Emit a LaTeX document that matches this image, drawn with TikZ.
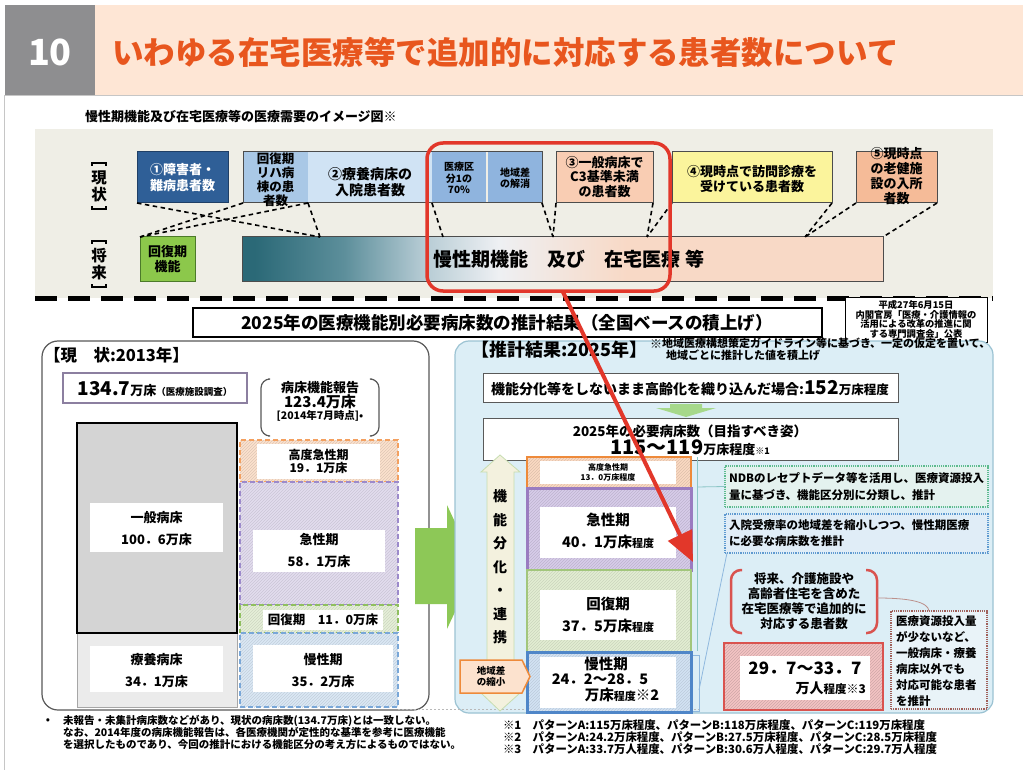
\documentclass[tikz,border=0pt]{standalone}
\usepackage{fontspec}
\setmainfont{Noto Sans CJK JP}
\usetikzlibrary{arrows.meta,patterns}
\newcommand\fsz[2]{\fontsize{#1}{#2}\selectfont\bfseries}
\newcommand\R[6]{\node[rectangle, inner sep=0pt, outer sep=0pt, minimum width={#4-#2}, minimum height={#5-#3}, #6] (#1) at ({(#2+#4)/2},{(#3+#5)/2}) {};}
\definecolor{hdgray}{HTML}{8E8E90}
\definecolor{hdpeach}{HTML}{FEE6D5}
\definecolor{hdorange}{HTML}{E8561E}
\definecolor{beige}{HTML}{EFEEE6}
\definecolor{blue1}{HTML}{2F5F97}
\definecolor{blue1d}{HTML}{1F3F66}
\definecolor{lb1}{HTML}{A9C8E6}
\definecolor{lb2}{HTML}{D0E3F4}
\definecolor{lb3}{HTML}{8FB4DE}
\definecolor{pch}{HTML}{F9CDB3}
\definecolor{yel}{HTML}{FBF49C}
\definecolor{sal}{HTML}{F5BB98}
\definecolor{green1}{HTML}{8CC84B}
\definecolor{green1d}{HTML}{4C7A2A}
\definecolor{red1}{HTML}{E2372A}
\definecolor{purp1}{HTML}{8C7FA0}
\definecolor{gray1}{HTML}{D4D4D4}
\definecolor{gray2}{HTML}{EBEBEB}
\definecolor{ha1}{HTML}{FCE2CE}
\definecolor{orng}{HTML}{F3A060}
\definecolor{ac1}{HTML}{E2DCEE}
\definecolor{purp2}{HTML}{9C8ACB}
\definecolor{rc1}{HTML}{E5EFD8}
\definecolor{grn2}{HTML}{8FBF5F}
\definecolor{ch1}{HTML}{DAE7F4}
\definecolor{blu2}{HTML}{79A7D8}
\definecolor{garrow}{HTML}{8DC857}
\definecolor{garrow2}{HTML}{A6D88A}
\definecolor{rpbg}{HTML}{DCEEF6}
\definecolor{rpbd}{HTML}{9CC3D3}
\definecolor{rha}{HTML}{FBDAC2}
\definecolor{orng2}{HTML}{EE8A3A}
\definecolor{rac}{HTML}{D8CCEA}
\definecolor{purp3}{HTML}{9A7CC0}
\definecolor{rrc}{HTML}{E2EDD2}
\definecolor{grn3}{HTML}{A2C67C}
\definecolor{rch}{HTML}{D2E2F3}
\definecolor{blu3}{HTML}{4F86C8}
\definecolor{ndbbg}{HTML}{E4F2EF}
\definecolor{ndbbd}{HTML}{5DBB8E}
\definecolor{blbg}{HTML}{E0EDF7}
\definecolor{blbd}{HTML}{5F9AD0}
\definecolor{red2}{HTML}{D9534F}
\definecolor{pink}{HTML}{F4C4C4}
\definecolor{dotbg}{HTML}{E9F3F8}
\definecolor{dotbd}{HTML}{A0605A}
\definecolor{arrcream}{HTML}{F3F1DE}
\definecolor{bt1}{HTML}{2B6977}
\definecolor{bt2}{HTML}{5D8F9B}
\definecolor{bt3}{HTML}{B4CAD3}
\definecolor{bt4}{HTML}{EEF0F3}
\definecolor{bt5}{HTML}{F8D9C6}
\pgfdeclarehorizontalshading{barsh}{100bp}{color(0bp)=(bt1); color(26bp)=(bt1); color(33bp)=(bt2); color(39bp)=(bt3); color(45bp)=(bt4); color(55bp)=(bt5); color(100bp)=(bt5)}
\begin{document}
\begin{tikzpicture}[x=1pt,y=-1pt,
  tx/.style={inner sep=0pt, outer sep=0pt, align=center},
  dsh/.style={draw=black, line width=1.6pt, dash pattern=on 4.5pt off 3.5pt},
  hatch/.style 2 args={preaction={fill=#1}, pattern=north east lines, pattern color=#2},
  ldash/.style={line width=1.5pt, dash pattern=on 5pt off 3pt},
  thinln/.style={line width=0.8pt},
  vbrk/.style={line width=2.2pt, line cap=butt}]
\useasboundingbox (0,0) rectangle (1023,770);
\fill[white] (0,0) rectangle (1023,770);
% header
\R{hg}{5}{5}{95}{95}{fill=hdgray}
\R{hp}{95}{5}{1023}{95}{fill=hdpeach}
\draw[gray!45, line width=1pt] (4,96) -- (1023,96);
\draw[gray!45, line width=1pt] (4,96) -- (4,770);
\node[tx, text=white, font=\fsz{36}{36}] (hnum) at (50,52) {10};
\node[tx, anchor=west, text=hdorange, font=\fsz{31.5}{32}] (htitle) at (112,52) {いわゆる在宅医療等で追加的に対応する患者数について};
% top section
\node[tx, anchor=west, font=\fsz{13}{13}] (cap) at (85,117) {慢性期機能及び在宅医療等の医療需要のイメージ図※};
\R{beige}{35}{129}{993}{298}{fill=beige}
\node[tx, font=\fsz{15.5}{17}] (lgen) at (99,186) {現\\状};
\node[tx, font=\fsz{15.5}{17}] (lsho) at (99,264) {将\\来};
\draw[vbrk] (92,166) -- (92,163) -- (106,163) -- (106,166);
\draw[vbrk] (92,206) -- (92,209) -- (106,209) -- (106,206);
\draw[vbrk] (92,244) -- (92,241) -- (106,241) -- (106,244);
\draw[vbrk] (92,284) -- (92,287) -- (106,287) -- (106,284);
\R{b1}{137}{152}{228}{203}{fill=blue1, draw=blue1d, line width=1pt}
\node[tx, text=white, font=\fsz{13}{16}] (b1t) at (182.5,177.5) {①障害者・\\難病患者数};
\R{s1}{243}{152}{308}{203}{fill=lb1}
\R{s2}{308}{152}{432}{203}{fill=lb2}
\R{s3}{432}{152}{486}{203}{fill=lb3}
\R{s4}{488}{152}{542}{203}{fill=lb3}
\draw[gray!60!black, line width=1pt] (s1.north west) rectangle (s4.south east);
\node[tx, font=\fsz{12.5}{14}] (s1t) at (275.5,180) {回復期\\リハ病\\棟の患\\者数};
\node[tx, font=\fsz{14}{16}] (s2t) at (370,182) {②療養病床の\\入院患者数};
\node[tx, font=\fsz{10}{11.5}] (s3t) at (459,178) {医療区\\分1の\\70\%};
\node[tx, font=\fsz{10}{11.5}] (s4t) at (515,178) {地域差\\の解消};
\R{b3}{556}{152}{653}{203}{fill=pch, draw=gray!60!black, line width=1pt}
\node[tx, font=\fsz{13}{14.5}] (b3t) at (604.5,177) {③一般病床で\\C3基準未満\\の患者数};
\R{b4}{672}{152}{832}{203}{fill=yel, draw=gray!60!black, line width=1pt}
\node[tx, font=\fsz{13}{15.5}] (b4t) at (752,179) {④現時点で訪問診療を\\受けている患者数};
\R{b5}{856}{152}{937}{203}{fill=sal, draw=gray!60!black, line width=1pt}
\node[tx, font=\fsz{13}{15}] (b5t) at (896.5,176) {⑤現時点\\の老健施\\設の入所\\者数};
\R{g1}{140}{237}{195}{281}{fill=green1, draw=green1d, line width=1pt}
\node[tx, font=\fsz{13}{15}] (g1t) at (167.5,259) {回復期\\機能};
\R{bar}{242}{237}{883}{281}{shade, shading=barsh, draw=gray!60!black, line width=1pt}
\node[tx, anchor=west, font=\fsz{19}{19}] (bart) at (433,259) {慢性期機能　及び　在宅医療\hspace{5pt}等};
\coordinate (q1) at (320,237);
\coordinate (q2) at (443,237);
\coordinate (q3) at (553,237);
\coordinate (q4) at (647,237);
\coordinate (q5) at (805,237);
\draw[dsh] (b1.south west) -- (q1);
\draw[dsh] (s1.south east) -- (q1);
\draw[dsh] (s1.south west) -- (g1.north west);
\draw[dsh] (s1.south east) -- (g1.north west);
\draw[dsh] (s3.south west) -- (q2);
\draw[dsh] (s4.south east) -- (q3);
\draw[dsh] (b3.south west) -- (q3);
\draw[dsh] (b3.south east) -- (q4);
\draw[dsh] (b4.south west) -- (q4);
\draw[dsh] (b4.south east) -- (q5);
\draw[dsh] (b5.south west) -- (q5);
\draw[dsh] (b5.south east) -- (bar.north east);
\R{redbox}{427}{143}{670}{291}{draw=red1, line width=3.5pt, rounded corners=16pt}
\draw[line width=5pt, dash pattern=on 22pt off 11pt] (35,298) -- (993,298);
% middle title
\R{mt}{193}{308}{822}{337}{fill=white, draw=black, line width=1.2pt}
\node[tx, font=\fsz{17.5}{18}] (mtt) at (507,322.5) {2025年の医療機能別必要病床数の推計結果（全国ベースの積上げ）};
\R{nb}{845}{297}{987}{342}{fill=white, draw=black, line width=1pt}
\node[tx, font=\fsz{9.3}{9.6}] (nbt) at (916,319.5) {平成27年6月15日\\内閣官房「医療・介護情報の\\活用による改革の推進に関\\する専門調査会」公表};
% left panel
\R{lp}{42}{341}{429}{710}{fill=white, draw=gray!70!black, line width=1.2pt, rounded corners=16pt}
\node[tx, anchor=west, font=\fsz{16.5}{17}] (lpt) at (44,355) {【現　状:2013年】};
\R{b134}{63}{373}{247}{403}{fill=white, draw=purp1, line width=1.2pt}
\node[tx] (b134t) at (155,389) {{\fsz{19}{19}134.7}{\fsz{13}{13}万床}{\fsz{9.5}{10}（医療施設調査）}};
\node[tx] (rep) at (320,401) {{\fsz{13}{15}病床機能報告}\\{\fsz{15}{15}123.4万床}\\{\fsz{10.5}{13}[2014年7月時点]•}};
\draw[gray!70!black, line width=1.2pt, rounded corners=9pt] (268,379) -| (261,436) -- (268,436);
\draw[gray!70!black, line width=1.2pt, rounded corners=9pt] (372,379) -| (379,436) -- (372,436);
\R{ryo}{77}{633}{237}{707}{fill=gray2, draw=gray!70, line width=1pt}
\R{gen}{77}{423}{237}{633}{fill=gray1, draw=black, line width=2.5pt}
\R{genw}{90}{503}{223}{552}{fill=white}
\node[tx, font=\fsz{13}{22}] (gent) at (156.5,529) {一般病床\\100．6万床};
\R{ryow}{90}{646}{223}{692}{fill=white}
\node[tx, font=\fsz{13}{22}] (ryot) at (156.5,671) {療養病床\\34．1万床};
\R{lha}{240}{440}{398}{482}{hatch={ha1}{ha1!88!black}, draw=orng, ldash}
\R{lhaw}{257}{444}{380}{479}{fill=white}
\node[tx, font=\fsz{12}{13}] (lhat) at (318.5,461.5) {高度急性期\\19．1万床};
\R{lac}{240}{482}{398}{605}{hatch={ac1}{ac1!90!black}, draw=purp2, ldash}
\R{lacw}{253}{530}{385}{572}{fill=white}
\node[tx, font=\fsz{13}{22}] (lact) at (319,551) {急性期\\58．1万床};
\R{lrc}{240}{605}{398}{633}{hatch={rc1}{rc1!90!black}, draw=grn2, ldash}
\R{lrcw}{263}{610}{383}{630}{fill=white}
\node[tx, font=\fsz{12.5}{13}] (lrct) at (323,620) {回復期　11．0万床};
\R{lch}{240}{633}{398}{707}{hatch={ch1}{ch1!90!black}, draw=blu2, ldash}
\R{lchw}{253}{645}{393}{692}{fill=white}
\node[tx, font=\fsz{13}{22}] (lcht) at (323,671) {慢性期\\35．2万床};
\fill[garrow] (415,528) -- (447,528) -- (447,505) -- (476,567) -- (447,629) -- (447,604) -- (415,604) -- cycle;
% right panel
\R{rp}{455}{341}{993}{713}{fill=rpbg, draw=rpbd, line width=1.2pt, rounded corners=14pt}
\draw[gray!55, line width=1pt, dash pattern=on 2pt off 2pt] (398,709) -- (700,709);
\node[tx, anchor=west, font=\fsz{18}{18}] (rpt) at (471,350) {【推計結果:2025年】};
\node[tx, anchor=west, font=\fsz{12}{12}] (rps) at (650,344) {※};
\node[tx, anchor=north west, align=left, font=\fsz{11}{12}] (rpn) at (662,338) {地域医療構想策定ガイドライン等に基づき、一定の仮定を置いて、\\\hspace{4pt}地域ごとに推計した値を積上げ};
\R{ba}{483}{373}{898}{402}{fill=white, draw=gray!70!black, line width=1pt}
\node[tx] (bat) at (690,388) {{\fsz{14}{14}機能分化等をしないまま高齢化を織り込んだ場合:}{\fsz{19}{19}152}{\fsz{12.5}{12.5}万床程度}};
\fill[garrow2] (670,404) -- (702,404) -- (702,408) -- (716,408) -- (686,417) -- (656,408) -- (670,408) -- cycle;
\R{bb}{483}{418}{898}{460}{fill=white, draw=gray!70!black, line width=1pt}
\node[tx, font=\fsz{13.5}{14}] (bbt1) at (690,431) {2025年の必要病床数（目指すべき姿）};
\node[tx] (bbt2) at (690,448) {{\fsz{20}{20}115～119}{\fsz{13}{13}万床程度}{\fsz{9}{9}※1}};
\filldraw[fill=arrcream, draw=grn3!60, line width=0.8pt] (481,472) -- (500,455) -- (520,472) -- (514,472) -- (514,693) -- (520,693) -- (500,711) -- (481,693) -- (487,693) -- (487,472) -- cycle;
\node[tx, font=\fsz{14}{23.5}] (vt) at (500,567) {機\\能\\分\\化\\・\\連\\携};
\R{bha}{527}{457}{691}{488}{hatch={rha}{rha!88!black}, draw=orng2, line width=2.5pt}
\R{bhaw}{540}{461}{676}{484}{fill=white}
\node[tx, font=\fsz{8}{9.5}] (bhat) at (608,472.5) {高度急性期\\13．0万床程度};
\R{bac}{527}{488}{691}{570}{hatch={rac}{rac!88!black}, draw=purp3, line width=3pt}
\R{bacw}{540}{507}{676}{558}{fill=white}
\node[tx, font=\fsz{14.5}{22}] (bact) at (608,531) {急性期\\40．1万床{\fsz{11}{11}程度}};
\R{brc}{527}{570}{691}{652}{hatch={rrc}{rrc!90!black}, draw=grn3, line width=2.5pt}
\R{brcw}{540}{590}{676}{640}{fill=white}
\node[tx, font=\fsz{14.5}{22}] (brct) at (608,615) {回復期\\37．5万床{\fsz{11}{11}程度}};
\R{bch}{527}{652}{691}{712}{hatch={rch}{rch!90!black}, draw=blu3, line width=3pt}
\R{bchw}{540}{657}{676}{708}{fill=white}
\node[tx, font=\fsz{14.5}{15}] (bct1) at (606,664) {慢性期};
\node[tx, font=\fsz{14.5}{15}] (bct2) at (600,679) {24．2～28．5};
\node[tx, font=\fsz{14.5}{15}] (bct3) at (622,695) {万床{\fsz{11}{11}程度}※2};
\filldraw[fill=ha1, draw=orng2, line width=1.5pt] (460,660) -- (522,660) -- (530,676.5) -- (522,693) -- (460,693) -- cycle;
\node[tx, font=\fsz{9.5}{11}] (chk) at (491,676.5) {地域差\\の縮小};
% side notes
\R{ndb}{725}{466}{988}{507}{fill=ndbbg, draw=ndbbd, line width=1.2pt, densely dotted}
\node[tx, anchor=west, align=left, font=\fsz{11.5}{16.5}] (ndbt) at (729,486.5) {NDBのレセプトデータ等を活用し、医療資源投入\\量に基づき、機能区分別に分類し、推計};
\R{blu}{725}{514}{988}{553}{fill=blbg, draw=blbd, line width=1.2pt, densely dotted}
\node[tx, anchor=west, align=left, font=\fsz{11.5}{16}] (blut) at (729,533.5) {入院受療率の地域差を縮小しつつ、慢性期医療\\に必要な病床数を推計};
\coordinate (br1) at (697,457);
\coordinate (br2) at (697,651);
\coordinate (br3) at (697,487);
\draw[teal!45, thinln] (br1) -- (br2);
\draw[teal!45, thinln] (br3) -- (ndb.west);
\draw[blbd!70, thinln] (693,655) -- (699,655) -- (699,711) -- (693,711);
\coordinate (br4) at (699,690);
\draw[blbd!70, thinln] (br4) -- ([xshift=2pt]blu.south west);
\node[tx, font=\fsz{12.5}{15}] (futt) at (804,601.5) {将来、介護施設や\\高齢者住宅を含めた\\在宅医療等で追加的に\\対応する患者数};
\draw[red2, line width=2.5pt, rounded corners=10pt] (742,570) -| (731,633) -- (742,633);
\draw[red2, line width=2.5pt, rounded corners=10pt] (866,570) -| (877,633) -- (866,633);
\R{pat}{724}{643}{883}{710}{hatch={pink}{pink!85!black}, draw=red2, line width=2.5pt}
\R{patw}{740}{656}{870}{700}{fill=white}
\node[tx, font=\fsz{17}{17}] (patt1) at (805,668) {29．7～33．7};
\node[tx, anchor=east] (patt2) at (866,688) {{\fsz{14}{14}万人}{\fsz{11.5}{11.5}程度}{\fsz{12}{12}※3}};
\R{dot}{891}{611}{987}{709}{fill=dotbg, draw=dotbd, line width=1.2pt, densely dotted}
\node[tx, anchor=west, align=left, font=\fsz{11.5}{16}] (dott) at (896,661) {医療資源投入量\\が少ないなど、\\一般病床・療養\\病床以外でも\\対応可能な患者\\を推計};
\coordinate (br5) at (877,598);
\draw[dotbd!70, thinln] (br5) .. controls (910,598) and (928,602) .. ([xshift=-10pt]dot.north);
% footnotes
\node[tx, font=\fsz{10.5}{12}] (fnb) at (48,721) {•};
\node[tx, anchor=north west, align=left, font=\fsz{10.5}{12}] (fnl) at (63,715) {未報告・未集計病床数などがあり、現状の病床数(134.7万床)とは一致しない。\\なお、2014年度の病床機能報告は、各医療機関が定性的な基準を参考に医療機能\\を選択したものであり、今回の推計における機能区分の考え方によるものではない。};
\node[tx, anchor=north west, align=left, font=\fsz{11.4}{12}] (fnr) at (503,720) {※1　パターンA:115万床程度、パターンB:118万床程度、パターンC:119万床程度\\※2　パターンA:24.2万床程度、パターンB:27.5万床程度、パターンC:28.5万床程度\\※3　パターンA:33.7万人程度、パターンB:30.6万人程度、パターンC:29.7万人程度};
% red arrow
\coordinate (tip) at (693,562);
\draw[red1, line width=4pt, -{Triangle[width=26pt,length=30pt]}] ([xshift=14pt]redbox.south) -- (tip);
\end{tikzpicture}
\end{document}
